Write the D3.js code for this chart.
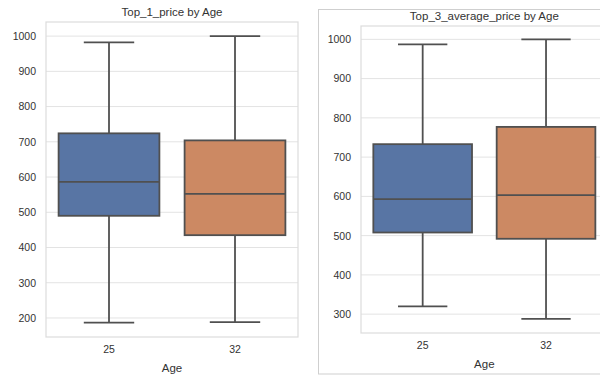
<!DOCTYPE html>
<html>
<head>
<meta charset="utf-8">
<script src="https://cdn.jsdelivr.net/npm/d3@7/dist/d3.min.js"></script>
<style>
  html, body { margin: 0; padding: 0; background: #ffffff; }
  svg { display: block; }
  text { font-family: "Liberation Sans", Arial, sans-serif; fill: #333333; }
</style>
</head>
<body>
<svg id="chart" width="600" height="376"></svg>
<script>
// Age groups on the x axis
const ages = ["25", "32"];
const boxColors = ["#5875a4", "#cc8963"];

// Top_1_price summary per age: [whisker low, Q1, median, Q3, whisker high]
const top1Low    = [187, 188];
const top1Q1     = [490, 435];
const top1Median = [586, 552];
const top1Q3     = [724, 704];
const top1High   = [982, 1000];

// Top_3_average_price summary per age
const top3Low    = [320, 288];
const top3Q1     = [508, 492];
const top3Median = [593, 603];
const top3Q3     = [733, 777];
const top3High   = [987, 1000];

// Y tick values for each panel
const top1Ticks = [200, 300, 400, 500, 600, 700, 800, 900, 1000];
const top3Ticks = [300, 400, 500, 600, 700, 800, 900, 1000];

const svg = d3.select("#chart");

// Frame around the second figure
svg.append("rect")
  .attr("x", 318.5).attr("y", 9.5)
  .attr("width", 300).attr("height", 364.5)
  .attr("fill", "#ffffff")
  .attr("stroke", "#cfcfcf").attr("stroke-width", 1);

function drawPanel(cfg) {
  const g = svg.append("g");
  const x = d3.scaleBand().domain(ages).range([cfg.left, cfg.right]).padding(0);
  const y = d3.scaleLinear().domain(cfg.domain).range([cfg.bottom, cfg.top]);

  // Horizontal grid lines
  g.append("g")
    .selectAll("line").data(cfg.ticks).join("line")
    .attr("x1", cfg.left).attr("x2", cfg.right)
    .attr("y1", d => y(d)).attr("y2", d => y(d))
    .attr("stroke", "#e3e3e3").attr("stroke-width", 1);

  // Plot border
  g.append("rect")
    .attr("x", cfg.left).attr("y", cfg.top)
    .attr("width", cfg.right - cfg.left).attr("height", cfg.bottom - cfg.top)
    .attr("fill", "none").attr("stroke", "#dcdcdc").attr("stroke-width", 1.2);

  // Y axis labels
  const yAxis = d3.axisLeft(y).tickValues(cfg.ticks).tickFormat(d3.format("d"))
    .tickSize(0).tickPadding(0);
  const ya = g.append("g").attr("transform", `translate(${cfg.left - 10},0)`).call(yAxis);
  ya.select(".domain").remove();
  ya.selectAll("text").attr("font-size", 10.5).attr("fill", "#333333")
    .style("font-family", '"Liberation Sans", Arial, sans-serif');

  // X axis labels
  const xAxis = d3.axisBottom(x).tickSize(0).tickPadding(0);
  const xa = g.append("g").attr("transform", `translate(0,${cfg.bottom + 9})`).call(xAxis);
  xa.select(".domain").remove();
  xa.selectAll("text").attr("font-size", 10.5).attr("fill", "#333333")
    .style("font-family", '"Liberation Sans", Arial, sans-serif');

  // Axis title and chart title
  g.append("text")
    .attr("x", (cfg.left + cfg.right) / 2).attr("y", cfg.bottom + 35)
    .attr("text-anchor", "middle").attr("font-size", 11.5).text("Age");
  g.append("text")
    .attr("x", (cfg.left + cfg.right) / 2).attr("y", cfg.top - 6)
    .attr("text-anchor", "middle").attr("font-size", 11.5).text(cfg.title);

  // Boxes
  const bw = x.bandwidth() * 0.8;
  const capW = bw / 2;
  const stroke = "#505050";
  const sw = 1.8;
  const boxes = g.append("g");
  ages.forEach((a, i) => {
    const cx = x(a) + x.bandwidth() / 2;
    const b = boxes.append("g");
    // whiskers
    b.append("line").attr("x1", cx).attr("x2", cx)
      .attr("y1", y(cfg.q3[i])).attr("y2", y(cfg.high[i]))
      .attr("stroke", stroke).attr("stroke-width", sw);
    b.append("line").attr("x1", cx).attr("x2", cx)
      .attr("y1", y(cfg.q1[i])).attr("y2", y(cfg.low[i]))
      .attr("stroke", stroke).attr("stroke-width", sw);
    // caps
    b.append("line").attr("x1", cx - capW / 2).attr("x2", cx + capW / 2)
      .attr("y1", y(cfg.high[i])).attr("y2", y(cfg.high[i]))
      .attr("stroke", stroke).attr("stroke-width", sw);
    b.append("line").attr("x1", cx - capW / 2).attr("x2", cx + capW / 2)
      .attr("y1", y(cfg.low[i])).attr("y2", y(cfg.low[i]))
      .attr("stroke", stroke).attr("stroke-width", sw);
    // box body
    b.append("rect")
      .attr("x", cx - bw / 2).attr("y", y(cfg.q3[i]))
      .attr("width", bw).attr("height", y(cfg.q1[i]) - y(cfg.q3[i]))
      .attr("fill", boxColors[i]).attr("stroke", stroke).attr("stroke-width", sw);
    // median
    b.append("line").attr("x1", cx - bw / 2).attr("x2", cx + bw / 2)
      .attr("y1", y(cfg.median[i])).attr("y2", y(cfg.median[i]))
      .attr("stroke", stroke).attr("stroke-width", sw);
  });
}

drawPanel({
  title: "Top_1_price by Age",
  left: 46, right: 298, top: 22, bottom: 337,
  domain: [146, 1040], ticks: top1Ticks,
  low: top1Low, q1: top1Q1, median: top1Median, q3: top1Q3, high: top1High
});

drawPanel({
  title: "Top_3_average_price by Age",
  left: 361, right: 607.7, top: 26, bottom: 333,
  domain: [252, 1034], ticks: top3Ticks,
  low: top3Low, q1: top3Q1, median: top3Median, q3: top3Q3, high: top3High
});
</script>
</body>
</html>
